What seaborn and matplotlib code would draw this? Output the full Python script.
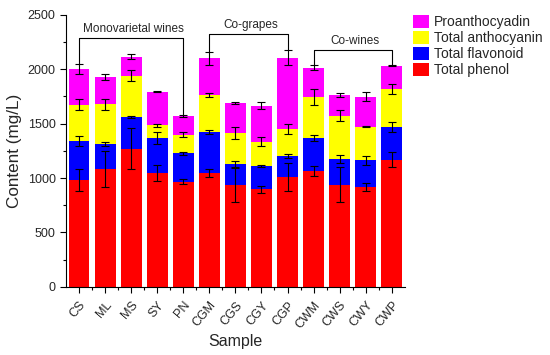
import numpy as np
import matplotlib
matplotlib.use("Agg")
import matplotlib.pyplot as plt
from matplotlib.ticker import MultipleLocator
import seaborn as sns

# data (mg/L)
samples = ['CS', 'ML', 'MS', 'SY', 'PN', 'CGM', 'CGS', 'CGY', 'CGP', 'CWM', 'CWS', 'CWY', 'CWP']
phenol = [983, 1084, 1270, 1048, 968, 1048, 935, 898, 1011, 1066, 940, 919, 1170]
flavonoid = [360, 233, 290, 319, 261, 379, 195, 214, 193, 301, 233, 245, 300]
anthocyanin = [333, 362, 382, 119, 171, 337, 288, 223, 248, 376, 401, 309, 350]
proantho = [329, 248, 174, 306, 174, 337, 270, 331, 655, 272, 190, 276, 214]

phenol_err = [101, 164, 190, 74, 20, 34, 153, 31, 126, 49, 164, 37, 70]
flavonoid_err = [46, 18, 12, 57, 15, 18, 26, 10, 20, 28, 38, 43, 44]
anthocyanin_err = [52, 52, 54, 15, 20, 18, 55, 38, 46, 74, 52, 8, 43]
proantho_err = [46, 30, 23, 5, 8, 58, 8, 31, 69, 26, 18, 41, 5]

groups = [('Monovarietal wines', 0, 4, 2288), ('Co-grapes', 5, 8, 2325), ('Co-wines', 9, 12, 2178)]

sns.set_style('ticks')
plt.rcParams['font.family'] = ['Liberation Sans', 'DejaVu Sans']

# cumulative stacks
c1 = np.array(phenol)
c2 = c1 + np.array(flavonoid)
c3 = c2 + np.array(anthocyanin)
c4 = c3 + np.array(proantho)

fig = plt.figure(figsize=(5.5, 3.55), dpi=100)
ax = fig.add_axes([0.12, 0.192, 0.616, 0.766])

layers = [
    (c4, proantho_err, '#FF00FF', 'Proanthocyadin'),
    (c3, anthocyanin_err, '#FFFF00', 'Total anthocyanin'),
    (c2, flavonoid_err, '#0000FF', 'Total flavonoid'),
    (c1, phenol_err, '#FF0000', 'Total phenol'),
]
for vals, err, col, lab in layers:
    sns.barplot(x=samples, y=vals, color=col, saturation=1, width=0.8,
                label=lab, ax=ax, errorbar=None, edgecolor='none')

xs = np.arange(len(samples))
for vals, err, col, lab in layers:
    ax.errorbar(xs, vals, yerr=err, fmt='none', ecolor='black',
                elinewidth=0.8, capsize=3, capthick=0.8, zorder=5)

# group brackets
for name, i0, i1, h in groups:
    b0 = c4[i0] + proantho_err[i0]
    b1 = c4[i1] + proantho_err[i1]
    ax.plot([xs[i0], xs[i0], xs[i1], xs[i1]], [b0, h, h, b1],
            color='black', lw=0.8, zorder=6)
    ax.text((xs[i0] + xs[i1]) / 2 + 0.1, h + 25, name, ha='center',
            va='bottom', fontsize=8.5)

ax.set_xlim(-0.5, len(samples) - 0.5)
ax.set_ylim(0, 2500)
ax.yaxis.set_major_locator(MultipleLocator(500))
ax.yaxis.set_minor_locator(MultipleLocator(250))
ax.set_xticks(xs, minor=False)
ax.set_xticks(xs[:-1] + 0.5, minor=True)
ax.set_xticklabels(samples, rotation=50, ha='right', rotation_mode='anchor', fontsize=9)
ax.tick_params(axis='y', labelsize=9)
ax.tick_params(which='major', direction='out', length=4, width=0.8, color='black')
ax.tick_params(axis='x', which='major', pad=5)
ax.tick_params(which='minor', direction='out', length=2, width=0.8, color='black')
ax.set_xlabel('Sample', fontsize=11.5, labelpad=2)
ax.set_ylabel('Content (mg/L)', fontsize=12.3, labelpad=4)
sns.despine(ax=ax)
for s in ['left', 'bottom']:
    ax.spines[s].set_linewidth(0.8)
    ax.spines[s].set_color('black')

ax.legend(loc='upper left', bbox_to_anchor=(1.024, 1.0), frameon=False,
          fontsize=10, handlelength=1.15, handleheight=1.1, handletextpad=0.35,
          labelspacing=0.12, borderpad=0, borderaxespad=0)

fig.savefig('out.png', dpi=100)
